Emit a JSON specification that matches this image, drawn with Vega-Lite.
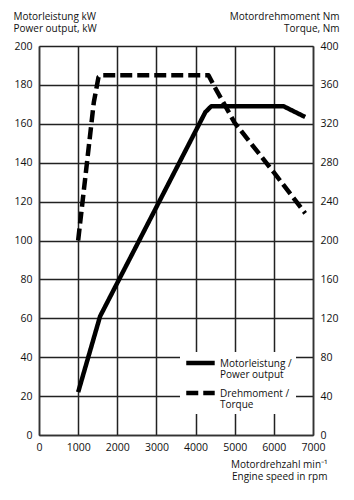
{
  "$schema": "https://vega.github.io/schema/vega-lite/v6.json",
  "autosize": {"type": "none"},
  "padding": {"left": 39, "top": 46, "right": 41, "bottom": 65},
  "width": 274,
  "height": 389,
  "background": "white",
  "config": {
    "view": {"stroke": null},
    "font": "Open Sans",
    "axis": {
      "grid": true,
      "gridColor": "#222",
      "gridWidth": 1.5,
      "gridOpacity": 1,
      "domainColor": "#333",
      "domainWidth": 1.5,
      "ticks": false,
      "labelFont": "Open Sans",
      "labelFontSize": 10.5,
      "labelColor": "#111",
      "labelPadding": 7,
      "labelFlush": false,
      "labelOverlap": false,
      "titleFont": "Open Sans",
      "titleFontSize": 10,
      "titleFontWeight": "normal",
      "titleColor": "#111"
    },
    "legend": {
      "orient": "none",
      "legendX": 141,
      "legendY": 306,
      "fillColor": "white",
      "padding": 4,
      "symbolType": "M-1,0H5",
      "symbolSize": 90,
      "symbolStrokeWidth": 4.5,
      "symbolStrokeColor": "black",
      "symbolFillColor": "transparent",
      "labelFont": "Open Sans",
      "labelFontSize": 10,
      "labelColor": "#111",
      "labelOffset": 22,
      "rowPadding": 4
    }
  },
  "datasets": {
    "power": [
      {"series": "power", "rpm": 1000, "kW": 22},
      {"series": "power", "rpm": 1560, "kW": 61},
      {"series": "power", "rpm": 4250, "kW": 166},
      {"series": "power", "rpm": 4400, "kW": 169},
      {"series": "power", "rpm": 6250, "kW": 169},
      {"series": "power", "rpm": 6800, "kW": 163.5}
    ],
    "torque": [
      {"series": "torque", "rpm": 1000, "Nm": 200},
      {"series": "torque", "rpm": 1400, "Nm": 342},
      {"series": "torque", "rpm": 1520, "Nm": 368},
      {"series": "torque", "rpm": 1600, "Nm": 370},
      {"series": "torque", "rpm": 4330, "Nm": 370},
      {"series": "torque", "rpm": 4500, "Nm": 357},
      {"series": "torque", "rpm": 5000, "Nm": 321},
      {"series": "torque", "rpm": 6000, "Nm": 270},
      {"series": "torque", "rpm": 6800, "Nm": 228}
    ]
  },
  "layer": [
    {
      "data": {"name": "power"},
      "mark": {"type": "line", "color": "black", "strokeWidth": 4.5, "strokeCap": "butt", "strokeJoin": "round"},
      "encoding": {
        "x": {
          "field": "rpm",
          "type": "quantitative",
          "scale": {"domain": [0, 7000], "nice": false},
          "axis": {
            "values": [0, 1000, 2000, 3000, 4000, 5000, 6000, 7000],
            "format": "d",
            "title": ["Motordrehzahl min⁻¹", "Engine speed in rpm"],
            "titleAlign": "right",
            "titleX": 288,
            "titleY": 32,
            "titleBaseline": "alphabetic",
            "titleLineHeight": 12.5
          }
        },
        "y": {
          "field": "kW",
          "type": "quantitative",
          "scale": {"domain": [0, 200], "nice": false},
          "axis": {
            "orient": "left",
            "values": [0, 20, 40, 60, 80, 100, 120, 140, 160, 180, 200],
            "title": ["Motorleistung kW", "Power output, kW"],
            "titleAngle": 0,
            "titleAlign": "left",
            "titleX": -26,
            "titleY": -27,
            "titleBaseline": "alphabetic",
            "titleLineHeight": 12.5
          }
        },
        "strokeDash": {
          "field": "series",
          "type": "nominal",
          "scale": {"domain": ["power", "torque"], "range": [[1, 0], [12, 5]]},
          "legend": {
            "title": null,
            "labelExpr": "datum.value == 'power' ? ['Motorleistung /', 'Power output'] : ['Drehmoment /', 'Torque']",
            "encode": {"labels": {"update": {"dy": {"value": 1}, "lineHeight": {"value": 11}}}}
          }
        }
      }
    },
    {
      "data": {"name": "torque"},
      "mark": {"type": "line", "color": "black", "strokeWidth": 4.5, "strokeCap": "butt", "strokeJoin": "round"},
      "encoding": {
        "x": {
          "field": "rpm",
          "type": "quantitative",
          "scale": {"domain": [0, 7000], "nice": false},
          "axis": {
            "values": [0, 1000, 2000, 3000, 4000, 5000, 6000, 7000],
            "format": "d",
            "title": ["Motordrehzahl min⁻¹", "Engine speed in rpm"],
            "titleAlign": "right",
            "titleX": 288,
            "titleY": 32,
            "titleBaseline": "alphabetic",
            "titleLineHeight": 12.5
          }
        },
        "y": {
          "field": "Nm",
          "type": "quantitative",
          "scale": {"domain": [0, 400], "nice": false},
          "axis": {
            "orient": "right",
            "grid": false,
            "values": [0, 40, 80, 120, 160, 200, 240, 280, 320, 360, 400],
            "title": ["Motordrehmoment Nm", "Torque, Nm"],
            "titleAngle": 0,
            "titleAlign": "right",
            "titleX": 26,
            "titleY": -27,
            "titleBaseline": "alphabetic",
            "titleLineHeight": 12.5
          }
        },
        "strokeDash": {"field": "series", "type": "nominal"}
      }
    }
  ],
  "resolve": {"scale": {"y": "independent"}}
}
